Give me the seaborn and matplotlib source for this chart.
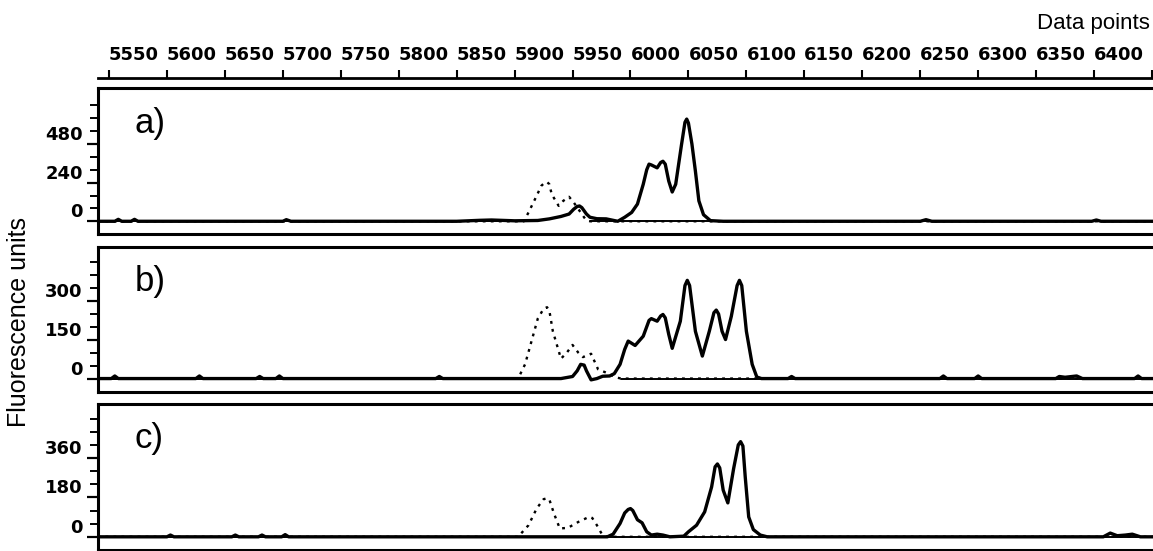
import matplotlib
matplotlib.use('Agg')
import matplotlib.pyplot as plt
import seaborn as sns
import numpy as np

sns.set_theme(style='ticks')
plt.rcParams['font.family'] = ['Liberation Sans', 'DejaVu Sans']
plt.rcParams.update({'axes.edgecolor': 'black', 'xtick.color': 'black', 'ytick.color': 'black',
                     'text.color': 'black', 'axes.labelcolor': 'black'})

# ---- data (data point, fluorescence) ----
# panel a)
a_solid_x = [5540, 5555, 5558, 5561, 5569, 5572, 5575, 5700, 5703, 5707, 5850, 5870, 5880, 5900,
             5920, 5930, 5940, 5947, 5951, 5954, 5956, 5958, 5962, 5965, 5971, 5979, 5985, 5989,
             5995, 6001, 6006, 6011, 6014, 6016, 6018, 6023, 6026, 6028, 6030, 6033, 6036, 6039,
             6044, 6047, 6048.5, 6050, 6053, 6056, 6059, 6063, 6069, 6080, 6250, 6255, 6260,
             6398, 6402, 6406, 6453]
a_solid_y = [0, 0, 12, 0, 0, 12, 0, 0, 10, 0, 0, 6, 8, 3,
             5, 15, 30, 45, 75, 92, 95, 85, 45, 25, 16, 15, 6, 0,
             25, 55, 107, 230, 320, 355, 350, 332, 365, 373, 355, 250, 182, 230,
             475, 615, 635, 610, 480, 312, 127, 41, 4, 0, 0, 10, 0,
             0, 8, 0, 0]
a_dot_x = [5540, 5908, 5912, 5919, 5923, 5926, 5928, 5930, 5932, 5938, 5942, 5947, 5951, 5957,
           5961, 5965, 6453]
a_dot_y = [0, 0, 55, 158, 220, 240, 244, 230, 168, 96, 127, 152, 117, 55,
           14, 0, 0]

# panel b)
b_solid_x = [5540, 5552, 5555, 5558, 5625, 5628, 5631, 5677, 5680, 5683, 5694, 5697, 5700, 5832,
             5835, 5838, 5940, 5950, 5954, 5957, 5960, 5962, 5966, 5971, 5976, 5982, 5986, 5991,
             5995, 5998, 6004, 6011, 6016, 6018, 6023, 6026, 6028, 6030, 6033, 6036, 6043, 6047,
             6049, 6051, 6056, 6062, 6068, 6072, 6074, 6076, 6079, 6082, 6087, 6092, 6094, 6096,
             6100, 6105, 6109, 6113, 6136, 6139, 6142, 6267, 6270, 6273, 6297, 6300, 6303, 6367,
             6370, 6375, 6385, 6390, 6435, 6438, 6441, 6453]
b_solid_y = [0, 0, 10, 0, 0, 10, 0, 0, 8, 0, 0, 10, 0, 0,
             8, 0, 0, 8, 30, 55, 52, 30, -5, 0, 9, 10, 19, 55,
             113, 145, 128, 164, 225, 232, 222, 242, 248, 235, 171, 117, 222, 360,
             380, 360, 183, 87, 183, 255, 265, 250, 183, 151, 241, 360, 380, 360,
             183, 55, 6, 0, 0, 8, 0, 0, 10, 0, 0, 10, 0, 0,
             8, 5, 10, 0, 0, 10, 0, 0]
b_dot_x = [5540, 5903, 5909, 5913, 5920, 5925, 5928, 5930, 5933, 5940, 5945, 5950, 5955, 5959,
           5966, 5972, 5981, 5988, 5992, 6453]
b_dot_y = [0, 0, 55, 119, 232, 270, 276, 262, 183, 77, 100, 130, 100, 83,
           96, 36, 19, 4, 0, 0]

# panel c)
c_solid_x = [5540, 5600, 5603, 5606, 5656, 5659, 5662, 5679, 5682, 5685, 5699, 5702, 5705, 5911,
             5980, 5985, 5991, 5995, 5998, 6000, 6002, 6006, 6010, 6014, 6018, 6023, 6028, 6034,
             6046, 6050, 6057, 6064, 6070, 6073, 6075, 6077, 6080, 6084, 6089, 6093, 6095, 6097,
             6099, 6102, 6106, 6112, 6118, 6408, 6414, 6420, 6427, 6433, 6440, 6453]
c_solid_y = [0, 0, 8, 0, 0, 8, 0, 0, 8, 0, 0, 10, 0, 0,
             0, 12, 61, 109, 125, 129, 120, 78, 64, 23, 8, 12, 8, 0,
             3, 23, 53, 114, 228, 320, 333, 315, 213, 155, 312, 420, 435, 415,
             274, 91, 33, 8, 0, 0, 17, 5, 8, 12, 0, 0]
c_dot_x = [5540, 5903, 5912, 5919, 5925, 5928, 5930, 5934, 5939, 5946, 5955, 5963, 5965, 5967,
           5971, 5975, 5980, 6453]
c_dot_y = [0, 0, 53, 129, 172, 176, 170, 106, 38, 41, 68, 88, 91, 86,
           53, 15, 0, 0]

panel_names = ['a)', 'b)', 'c)']
y_major = [[0, 240, 480], [0, 150, 300], [0, 180, 360]]
y_minor = [[80, 160, 320, 400, 560, 640, 720], [50, 100, 200, 250, 350, 400, 450],
           [60, 120, 240, 300, 420, 480, 540]]
y_lims = [(-79, 828), (-52, 511), (-58, 607)]
x_ticks = list(range(5550, 6451, 50))

# ---- layout in pixels ----
W, H = 1153, 551
fig = plt.figure(figsize=(W / 100, H / 100), dpi=100)
boxes = [(88, 234), (246.5, 392), (404, 549.5)]
left_px, right_px = 98, 1155

traces = [(a_solid_x, a_solid_y, a_dot_x, a_dot_y),
          (b_solid_x, b_solid_y, b_dot_x, b_dot_y),
          (c_solid_x, c_solid_y, c_dot_x, c_dot_y)]

axes = []
for i, (top, bot) in enumerate(boxes):
    ax = fig.add_axes([left_px / W, 1 - bot / H, (right_px - left_px) / W, (bot - top) / H])
    sx, sy, dx, dy = traces[i]
    # flat stretches of the dotted trace print as a thin continuous line
    dy_arr = np.array(dy, dtype=float)
    flat = np.where(dy_arr == 0, dy_arr, np.nan)
    ax.plot(dx, flat, color='black', linewidth=1.4)
    sns.lineplot(x=dx, y=dy, ax=ax, color='black', linewidth=1.7,
                 linestyle=(0, (1.2, 2.2)), estimator=None, sort=False)
    sns.lineplot(x=sx, y=sy, ax=ax, color='black', linewidth=2.4,
                 estimator=None, sort=False, solid_joinstyle='round')
    ax.set_xlim(5540.5, 6452.6)
    ax.set_ylim(*y_lims[i])
    ax.set_yticks(y_major[i])
    ax.set_yticklabels([str(v) for v in y_major[i]], fontweight='bold', family='DejaVu Sans',
                       fontsize=13, va='bottom')
    ax.set_yticks(y_minor[i], minor=True)
    ax.tick_params(axis='y', which='major', direction='out', length=8, width=1.6, pad=3)
    ax.tick_params(axis='y', which='minor', direction='out', length=6, width=1.4)
    ax.tick_params(axis='x', which='both', bottom=False, top=False,
                   labelbottom=False, labeltop=False)
    ax.set_xlabel('')
    ax.set_ylabel('')
    ax.spines['right'].set_visible(False)
    for s in ['top', 'bottom', 'left']:
        ax.spines[s].set_linewidth(2.2)
    ax.text(0.035, 0.76, panel_names[i], transform=ax.transAxes, fontsize=25,
            ha='left', va='center')
    axes.append(ax)

# top data-point scale
ax_top = axes[0].secondary_xaxis((234 - 78) / (234 - 88))
ax_top.set_xticks(x_ticks, labels=[str(v) for v in x_ticks[:-1]] + [''])
ax_top.tick_params(direction='out', length=6, width=1.5, pad=4, labelsize=13)
plt.setp(ax_top.get_xticklabels(), fontweight='bold', ha='left', family='DejaVu Sans')
ax_top.spines['top'].set_linewidth(2)

fig.text(1150 / W, 1 - 24 / H, 'Data points', ha='right', va='center', fontsize=16)
fig.text(19 / W, 1 - 322 / H, 'Fluorescence units', rotation=90, ha='center', va='center',
         fontsize=18)

fig.savefig('out.png', dpi=100)
plt.close(fig)
